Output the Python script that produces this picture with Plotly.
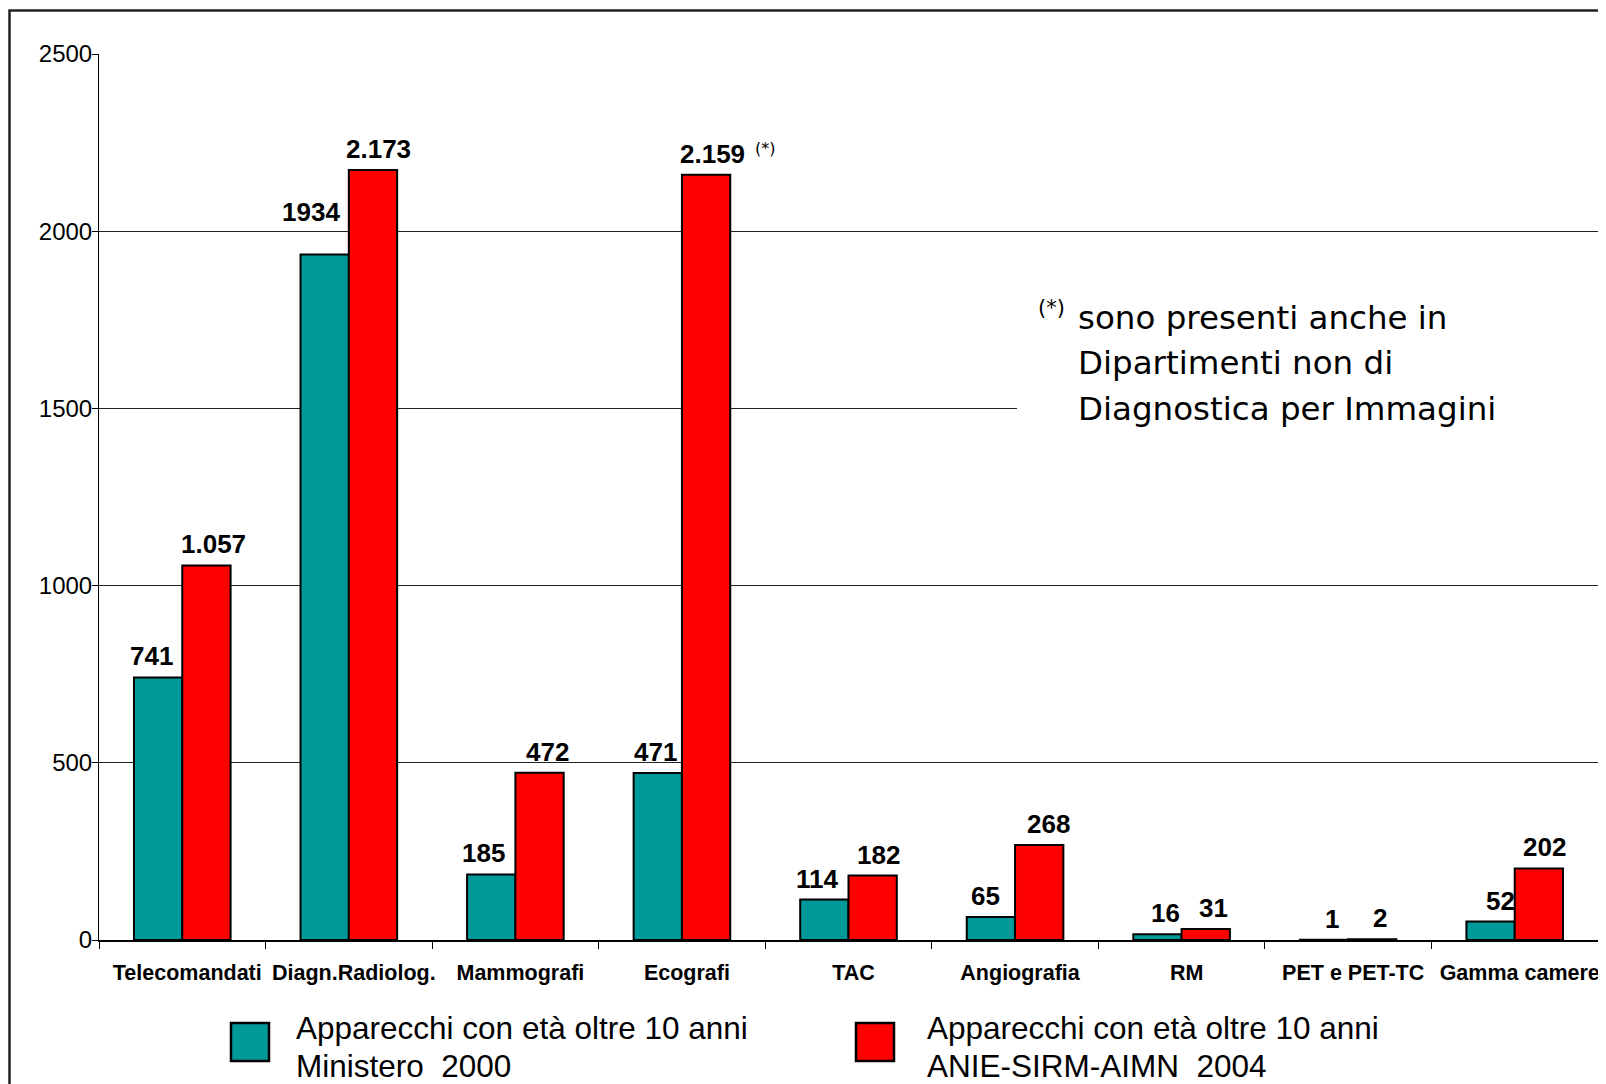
import plotly.graph_objects as go

# ---------------- data ----------------
categories = ["Telecomandati", "Diagn.Radiolog.", "Mammografi", "Ecografi", "TAC",
              "Angiografia", "RM", "PET e PET-TC", "Gamma camere"]
series_names = ["Apparecchi con età oltre 10 anni<br>Ministero  2000",
                "Apparecchi con età oltre 10 anni<br>ANIE-SIRM-AIMN  2004"]
ministero_2000 = [741, 1934, 185, 471, 114, 65, 16, 1, 52]
anie_2004 = [1057, 2173, 472, 2159, 182, 268, 31, 2, 202]
ministero_labels = ["741", "1934", "185", "471", "114", "65", "16", "1", "52"]
anie_labels = ["1.057", "2.173", "472", "2.159", "182", "268", "31", "2", "202"]
y_ticks = [0, 500, 1000, 1500, 2000, 2500]
note_lines = ["sono presenti anche in", "Dipartimenti non di", "Diagnostica per Immagini"]

# ---------------- style ----------------
TEAL = "#009999"
RED = "#FF0000"
OFF = 8                      # page body margin of the html page
W, H = 1606 - OFF, 1084 - OFF
ML, MR, MT, MB = 99 - OFF, 8, 54 - OFF, 144
BARGAP = 0.42
FONT = "Liberation Sans, Arial, sans-serif"
NOTE_FONT = "Tahoma, DejaVu Sans, sans-serif"

# small pixel nudges of value labels (as placed in the original)
teal_dx = [-7, -14, -8, -2, -7, -5, 8, 8, 10]
teal_dy = [0, 22, 0, 0, 0, 0, 0, 0, 0]
red_dx = [7, 6, 8, 6, 6, 9, 8, 8, 6]

pw = W - ML - MR
ph = H - MT - MB


def px_x(p):
    # p: pixel in the final screenshot
    return (p - OFF - ML) / pw


def px_y(p):
    return (H - MB - (p - OFF)) / ph


fig = go.Figure()
fig.add_trace(go.Bar(x=categories, y=ministero_2000, name=series_names[0],
                     marker=dict(color=TEAL, line=dict(color="black", width=2))))
fig.add_trace(go.Bar(x=categories, y=anie_2004, name=series_names[1],
                     marker=dict(color=RED, line=dict(color="black", width=2))))

half = (1 - BARGAP) / 4.0
annotations = []
for i in range(len(categories)):
    annotations.append(dict(x=i - half, y=ministero_2000[i], xref="x", yref="y",
                            text=ministero_labels[i], showarrow=False,
                            yanchor="middle", xanchor="center",
                            xshift=teal_dx[i], yshift=21 + teal_dy[i],
                            font=dict(family=FONT, size=26, color="black", weight="bold")))
    annotations.append(dict(x=i + half, y=anie_2004[i], xref="x", yref="y",
                            text=anie_labels[i], showarrow=False,
                            yanchor="middle", xanchor="center",
                            xshift=red_dx[i], yshift=21,
                            font=dict(family=FONT, size=26, color="black", weight="bold")))

# (*) marker next to Ecografi 2004 value
annotations.append(dict(x=3 + half, y=anie_2004[3], xref="x", yref="y", text="(*)",
                        showarrow=False, xanchor="left", yanchor="middle",
                        xshift=47, yshift=26,
                        font=dict(family=NOTE_FONT, size=16, color="black")))

# footnote
annotations.append(dict(x=px_x(1036), y=px_y(308), xref="paper", yref="paper", text="(*)",
                        showarrow=False, xanchor="left", yanchor="middle",
                        font=dict(family=NOTE_FONT, size=21, color="black")))
for k, line in enumerate(note_lines):
    annotations.append(dict(x=px_x(1076), y=px_y(318 + 45.5 * k), xref="paper", yref="paper",
                            text=line, showarrow=False, xanchor="left", yanchor="middle",
                            font=dict(family=NOTE_FONT, size=32.5, color="black")))

# legend (drawn manually)
shapes = []
legend_items = [(TEAL, 231, 294), (RED, 856, 925)]
for (col, sx, tx), name in zip(legend_items, series_names):
    shapes.append(dict(type="rect", xref="paper", yref="paper",
                       x0=px_x(sx), x1=px_x(sx + 38), y0=px_y(1023), y1=px_y(1061),
                       fillcolor=col, line=dict(color="black", width=2.5)))
    for k, line in enumerate(name.split("<br>")):
        annotations.append(dict(x=px_x(tx), y=px_y(1028 + 38 * k), xref="paper", yref="paper",
                                text=line, showarrow=False, xanchor="left", yanchor="middle",
                                font=dict(family=FONT, size=31.5, color="black")))

# white box behind the footnote (hides the gridline)
shapes.append(dict(type="rect", xref="paper", yref="paper", layer="above",
                   x0=px_x(1017), x1=px_x(1640), y0=px_y(440), y1=px_y(280),
                   fillcolor="white", line=dict(width=0)))
# outer frame
shapes.append(dict(type="rect", xref="paper", yref="paper",
                   x0=px_x(9.5), x1=px_x(1640), y0=px_y(1120), y1=px_y(10.5),
                   fillcolor="rgba(0,0,0,0)", line=dict(color="#222222", width=2.5)))

fig.update_layout(
    width=W, height=H,
    margin=dict(l=ML, r=MR, t=MT, b=MB, pad=0, autoexpand=False),
    paper_bgcolor="white", plot_bgcolor="white",
    barmode="group", bargap=BARGAP, bargroupgap=0,
    showlegend=False,
    annotations=annotations, shapes=shapes,
    font=dict(family=FONT, color="black"),
)
fig.update_xaxes(
    type="category", tickson="boundaries", ticks="outside", ticklen=7,
    tickcolor="black", tickwidth=1, showline=True, linecolor="black", linewidth=2,
    showgrid=False, ticklabelstandoff=12, ticklabelshift=5, ticklabeloverflow="allow",
    tickangle=0, automargin=False,
    tickfont=dict(family=FONT, size=21.5, color="black", weight="bold"),
)
fig.update_yaxes(
    range=[0, 2500], tickvals=y_ticks, ticks="outside", ticklen=6, tickcolor="black",
    showline=True, linecolor="black", linewidth=1, showgrid=True, gridcolor="#222222",
    gridwidth=1, zeroline=False, ticklabelstandoff=-5, automargin=False,
    tickfont=dict(family=FONT, size=24, color="black"),
)

fig.write_html("out.html")
